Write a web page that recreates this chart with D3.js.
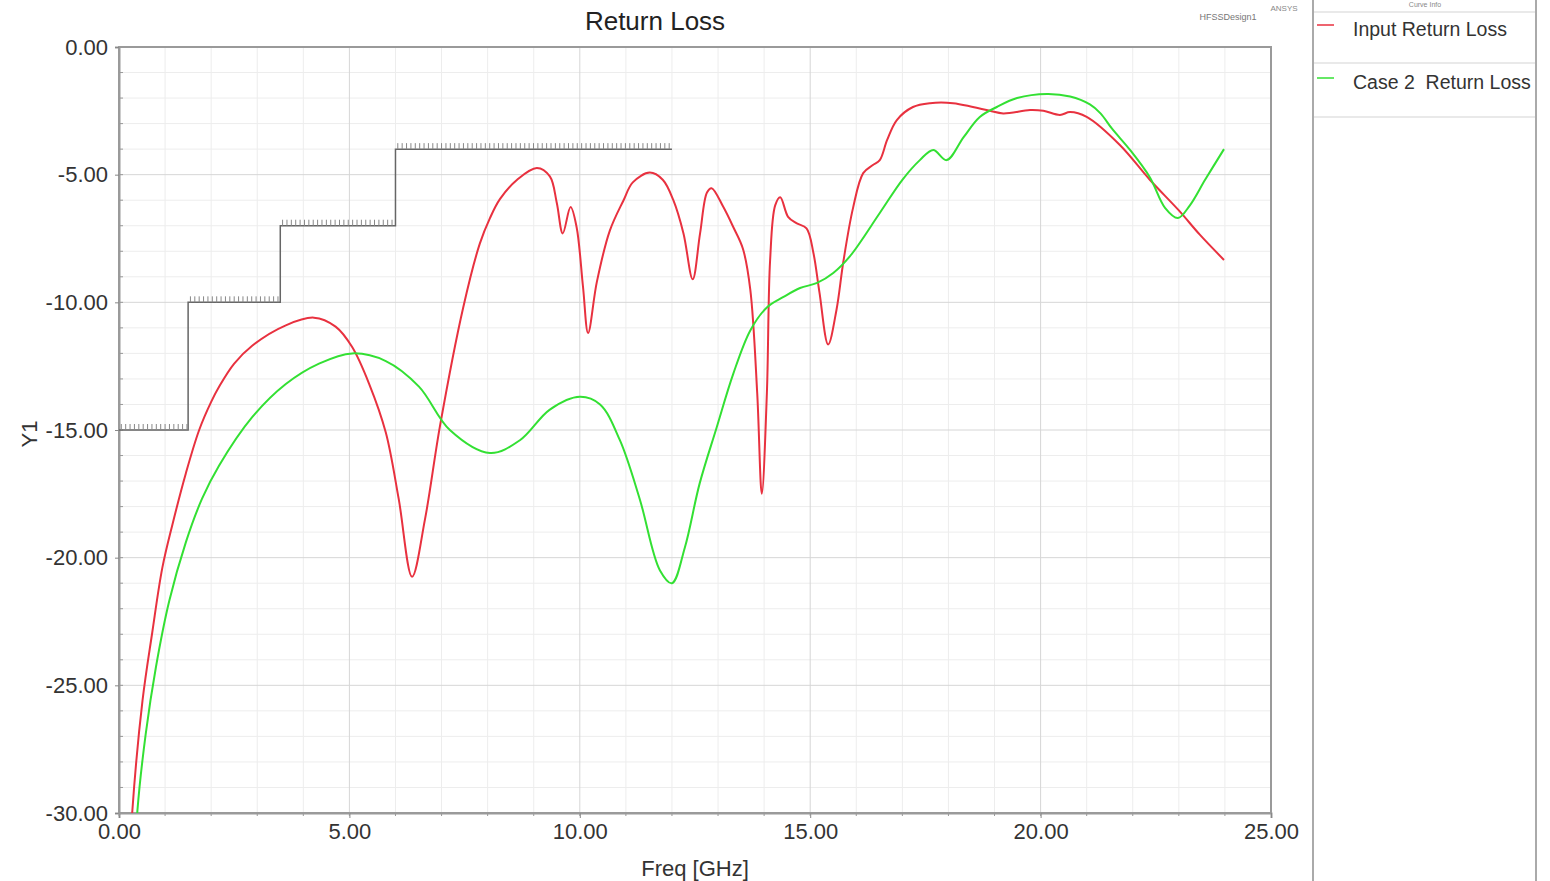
<!DOCTYPE html>
<html>
<head>
<meta charset="utf-8">
<script src="https://cdn.jsdelivr.net/npm/d3@7"></script>
<style>
  body { margin: 0; background: #fff; }
  svg { font-family: "Liberation Sans", Arial, sans-serif; }
  text { white-space: pre; }
</style>
</head>
<body>
<div id="chart"></div>
<script>
// curve data: [freq GHz, dB]
let inputReturnLoss = [[0.26,-31],[0.29,-29.9],[0.51,-25.6],[0.72,-22.95],[0.94,-20.4],[1.16,-18.7],[1.45,-16.7],[1.74,-15.0],[2.0,-13.9],[2.19,-13.25],[2.5,-12.4],[2.89,-11.7],[3.62,-10.9],[4.23,-10.6],[4.7,-10.95],[5.06,-11.75],[5.43,-13.2],[5.79,-15.1],[6.07,-17.7],[6.36,-20.75],[6.64,-18.5],[6.97,-14.8],[7.47,-10.2],[7.83,-7.7],[8.05,-6.7],[8.27,-5.95],[8.64,-5.2],[9.07,-4.74],[9.35,-5.07],[9.5,-6.1],[9.63,-7.3],[9.8,-6.27],[9.93,-7.05],[10.07,-9.4],[10.18,-11.2],[10.37,-9.2],[10.65,-7.2],[10.95,-6.0],[11.15,-5.3],[11.52,-4.92],[11.8,-5.2],[12.03,-6.0],[12.25,-7.3],[12.45,-9.1],[12.61,-7.3],[12.76,-5.7],[12.86,-5.53],[13.11,-6.25],[13.33,-7.05],[13.54,-7.9],[13.7,-9.5],[13.85,-13.55],[13.95,-17.5],[14.06,-13.55],[14.13,-8.35],[14.24,-6.2],[14.35,-5.88],[14.52,-6.65],[14.7,-6.9],[14.92,-7.1],[15.07,-8.07],[15.2,-9.6],[15.39,-11.65],[15.57,-10.3],[15.72,-8.4],[15.93,-6.3],[16.15,-4.94],[16.36,-4.62],[16.51,-4.43],[16.67,-3.64],[16.88,-2.86],[17.23,-2.35],[17.6,-2.2],[18.1,-2.2],[18.53,-2.35],[18.9,-2.5],[19.19,-2.6],[19.77,-2.47],[20.06,-2.5],[20.42,-2.66],[20.64,-2.55],[21.0,-2.74],[21.72,-3.84],[22.37,-5.2],[23.0,-6.4],[23.46,-7.36],[23.98,-8.34]];

let case2ReturnLoss = [[0.37,-31],[0.40,-29.9],[0.58,-26.9],[0.80,-24.3],[1.09,-21.7],[1.45,-19.4],[1.80,-17.7],[2.17,-16.4],[2.89,-14.5],[3.62,-13.2],[4.34,-12.4],[5.06,-12.0],[5.79,-12.3],[6.51,-13.3],[7.18,-15.0],[8.05,-15.9],[8.7,-15.4],[9.35,-14.2],[10.0,-13.7],[10.44,-14.0],[10.87,-15.4],[11.3,-17.7],[11.74,-20.5],[12.0,-21.0],[12.28,-19.6],[12.6,-17.1],[12.97,-14.9],[13.33,-12.8],[13.7,-11.1],[14.06,-10.2],[14.41,-9.8],[14.78,-9.44],[15.15,-9.24],[15.5,-8.85],[15.86,-8.2],[16.51,-6.5],[17.0,-5.2],[17.38,-4.43],[17.67,-4.03],[17.96,-4.43],[18.33,-3.53],[18.68,-2.74],[19.05,-2.35],[19.49,-2.0],[20.14,-1.84],[20.64,-1.94],[21.07,-2.25],[21.3,-2.6],[21.55,-3.2],[21.94,-4.03],[22.37,-5.1],[22.7,-6.3],[22.98,-6.7],[23.24,-6.2],[23.57,-5.2],[23.98,-4.0]];

// limit mask steps
let limitStart = [0, 1.5, 3.5, 6];
let limitEnd = [1.5, 3.5, 6, 12];
let limitLevel = [-15, -10, -7, -4];

let xTicks = [0, 5, 10, 15, 20, 25];
let yTicks = [0, -5, -10, -15, -20, -25, -30];
let legendNames = ['Input Return Loss', 'Case 2  Return Loss'];
let colors = ['#e8313f', '#33e033'];

let svgWidth = 1550;
let svgHeight = 881;
let margin = { top: 47, right: 279, bottom: 68, left: 119 };
let width = svgWidth - margin.left - margin.right;
let height = svgHeight - margin.top - margin.bottom;

let svg = d3.select('#chart')
    .append('svg')
    .attr('width', svgWidth)
    .attr('height', svgHeight);

let chartgroup = svg.append('g')
    .attr('transform', `translate(${margin.left},${margin.top})`);

let x = d3.scaleLinear().domain([0, 25]).range([0, width]);
let y = d3.scaleLinear().domain([-30, 0]).range([height, 0]);
let fmt = d => d.toFixed(2);

// minor grid, every 1 unit
chartgroup.append('g')
    .selectAll('line')
    .data(d3.range(1, 25).filter(d => d % 5 !== 0))
    .enter().append('line')
    .attr('x1', d => x(d)).attr('x2', d => x(d))
    .attr('y1', 0).attr('y2', height)
    .attr('stroke', '#ededed');
chartgroup.append('g')
    .selectAll('line')
    .data(d3.range(-29, 0).filter(d => d % 5 !== 0))
    .enter().append('line')
    .attr('y1', d => y(d)).attr('y2', d => y(d))
    .attr('x1', 0).attr('x2', width)
    .attr('stroke', '#ededed');

// major grid
chartgroup.append('g')
    .selectAll('line')
    .data(xTicks.slice(1, -1))
    .enter().append('line')
    .attr('x1', d => x(d)).attr('x2', d => x(d))
    .attr('y1', 0).attr('y2', height)
    .attr('stroke', '#d6d6d6');
chartgroup.append('g')
    .selectAll('line')
    .data(yTicks.slice(1, -1))
    .enter().append('line')
    .attr('y1', d => y(d)).attr('y2', d => y(d))
    .attr('x1', 0).attr('x2', width)
    .attr('stroke', '#d6d6d6');

// frame
chartgroup.append('rect')
    .attr('width', width).attr('height', height)
    .attr('fill', 'none')
    .attr('stroke', '#9a9a9a')
    .attr('stroke-width', 2);

// axes
let BAxis = d3.axisBottom(x).tickValues(xTicks).tickFormat(fmt).tickSize(5).tickPadding(5);
let xAxis = chartgroup.append('g')
    .attr('transform', `translate(0, ${height})`)
    .call(BAxis);
let LAxis = d3.axisLeft(y).tickValues(yTicks).tickFormat(fmt).tickSize(4).tickPadding(7);
let yAxis = chartgroup.append('g').call(LAxis);
[xAxis, yAxis].forEach(a => {
    a.select('.domain').attr('stroke', '#9a9a9a').attr('stroke-width', 2);
    a.selectAll('.tick line').attr('stroke', '#888');
    a.selectAll('.tick text').attr('fill', '#333').attr('font-size', '22px');
});

// minor ticks
chartgroup.append('g')
    .selectAll('line')
    .data(d3.range(0, 25))
    .enter().append('line')
    .attr('x1', d => x(d)).attr('x2', d => x(d))
    .attr('y1', height).attr('y2', height + 3)
    .attr('stroke', '#999');
chartgroup.append('g')
    .selectAll('line')
    .data(d3.range(-30, 0))
    .enter().append('line')
    .attr('y1', d => y(d)).attr('y2', d => y(d))
    .attr('x1', 0).attr('x2', 4)
    .attr('stroke', '#999');

// limit mask
let limitPts = [];
limitStart.forEach((s, i) => {
    limitPts.push([s, limitLevel[i]]);
    limitPts.push([limitEnd[i], limitLevel[i]]);
});
chartgroup.append('path')
    .datum(limitPts)
    .attr('d', d3.line().x(d => x(d[0])).y(d => y(d[1])))
    .attr('fill', 'none')
    .attr('stroke', '#666')
    .attr('stroke-width', 1.5);
let hatch = [];
limitStart.forEach((s, i) => {
    d3.range(s + 0.05, limitEnd[i], 0.095).forEach(f => hatch.push([f, limitLevel[i]]));
});
chartgroup.append('g')
    .selectAll('line')
    .data(hatch)
    .enter().append('line')
    .attr('x1', d => x(d[0])).attr('x2', d => x(d[0]))
    .attr('y1', d => y(d[1])).attr('y2', d => y(d[1]) - 6)
    .attr('stroke', '#888')
    .attr('stroke-width', 1);

// curves
svg.append('defs').append('clipPath').attr('id', 'clip')
    .append('rect').attr('width', width).attr('height', height);
let line = d3.line()
    .x(d => x(d[0]))
    .y(d => y(d[1]))
    .curve(d3.curveCatmullRom.alpha(0.5));
let curvesGroup = chartgroup.append('g').attr('clip-path', 'url(#clip)');
[inputReturnLoss, case2ReturnLoss].forEach((s, i) => {
    curvesGroup.append('path')
        .datum(s)
        .attr('d', line)
        .attr('fill', 'none')
        .attr('stroke', colors[i])
        .attr('stroke-width', 2);
});

// titles and labels
svg.append('text')
    .attr('x', 655).attr('y', 30)
    .attr('text-anchor', 'middle')
    .attr('font-size', '26px')
    .attr('fill', '#222')
    .text('Return Loss');
svg.append('text')
    .attr('x', 695).attr('y', 876)
    .attr('text-anchor', 'middle')
    .attr('font-size', '22px')
    .attr('fill', '#333')
    .text('Freq [GHz]');
svg.append('text')
    .attr('transform', 'translate(37, 434) rotate(-90)')
    .attr('text-anchor', 'middle')
    .attr('font-size', '22px')
    .attr('fill', '#333')
    .text('Y1');
svg.append('text')
    .attr('x', 1228).attr('y', 20)
    .attr('text-anchor', 'middle')
    .attr('font-size', '9px')
    .attr('fill', '#777')
    .text('HFSSDesign1');
svg.append('text')
    .attr('x', 1284).attr('y', 11)
    .attr('text-anchor', 'middle')
    .attr('font-size', '8px')
    .attr('fill', '#888')
    .text('ANSYS');

// legend panel
let legend = svg.append('g');
legend.append('line')
    .attr('x1', 1313).attr('x2', 1313).attr('y1', 0).attr('y2', svgHeight)
    .attr('stroke', '#aaa').attr('stroke-width', 2);
legend.append('line')
    .attr('x1', 1536).attr('x2', 1536).attr('y1', 0).attr('y2', svgHeight)
    .attr('stroke', '#aaa').attr('stroke-width', 2);
legend.append('text')
    .attr('x', 1425).attr('y', 7)
    .attr('text-anchor', 'middle')
    .attr('font-size', '7px')
    .attr('fill', '#888')
    .text('Curve Info');
[12, 63, 117].forEach(yy => {
    legend.append('line')
        .attr('x1', 1314).attr('x2', 1535).attr('y1', yy).attr('y2', yy)
        .attr('stroke', '#e2e2e2').attr('stroke-width', 1.5);
});
legendNames.forEach((n, i) => {
    let yy = 25 + i * 53;
    legend.append('line')
        .attr('x1', 1317).attr('x2', 1334).attr('y1', yy).attr('y2', yy)
        .attr('stroke', colors[i]).attr('stroke-width', 1.5);
    legend.append('text')
        .attr('x', 1353).attr('y', yy + 11)
        .attr('font-size', '19.5px')
        .attr('fill', '#333')
        .text(n);
});
</script>
</body>
</html>
